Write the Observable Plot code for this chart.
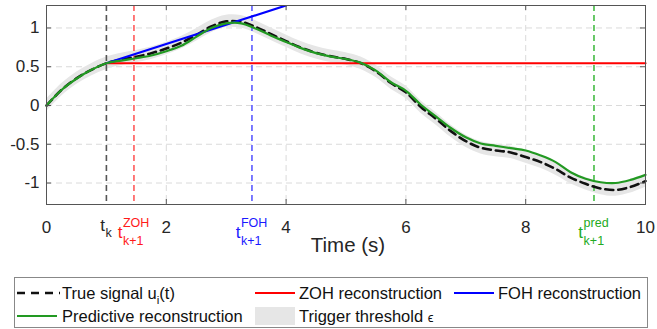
<!DOCTYPE html>
<html><head><meta charset="utf-8">
<script src="https://cdn.jsdelivr.net/npm/d3@7"></script>
<script src="https://cdn.jsdelivr.net/npm/@observablehq/plot@0.6"></script>
<style>
body{margin:0;background:#fff;font-family:"Liberation Sans",Arial,sans-serif;}
#wrap{position:relative;width:657px;height:329px;overflow:hidden;}
#chart{position:absolute;left:0;top:0;}
#legend{position:absolute;left:0;top:270px;}
</style></head><body>
<div id="wrap"><div id="chart"></div><svg id="legend" width="657" height="59"></svg></div>
<script>
// ---- data ----
const time = [0,0.25,0.5,0.75,1,1.25,1.5,1.75,2,2.25,2.5,2.75,3,3.25,3.5,3.75,4,4.25,4.5,4.75,5,5.25,5.5,5.75,6,6.25,6.5,6.75,7,7.25,7.5,7.75,8,8.25,8.5,8.75,9,9.25,9.5,9.75,10];
const trueSignal = [0,0.20,0.35,0.46,0.545,0.595,0.63,0.675,0.735,0.81,0.91,1.02,1.085,1.08,1.01,0.92,0.83,0.745,0.68,0.635,0.60,0.545,0.44,0.29,0.17,-0.02,-0.17,-0.33,-0.46,-0.545,-0.58,-0.605,-0.665,-0.73,-0.82,-0.93,-1.01,-1.07,-1.09,-1.05,-0.975];
const predictive = [0,0.20,0.345,0.46,0.545,0.58,0.61,0.645,0.70,0.77,0.885,1.00,1.06,1.06,0.99,0.90,0.82,0.74,0.675,0.63,0.60,0.55,0.45,0.30,0.19,0.01,-0.14,-0.29,-0.41,-0.49,-0.52,-0.55,-0.58,-0.645,-0.73,-0.86,-0.945,-0.99,-1.0,-0.96,-0.895];
const epsilon = 0.08;
const zohTime = [1, 10];
const zohValue = [0.545, 0.545];
const fohTime = [1, 4];
const fohValue = [0.545, 1.29];
const eventTimes = [1.0, 1.46, 3.43, 9.14];
const eventLineColors = ["#555555", "#ff5a5a", "#5a5aff", "#44bb44"];
const eventLabelColors = ["#262626", "#ff1a1a", "#1a1aff", "#22aa22"];
const eventSup = ["", "ZOH", "FOH", "pred"];
const eventSub = ["k", "k+1", "k+1", "k+1"];
const xTicks = [0, 2, 4, 6, 8, 10];
const yTicks = [-1, -0.5, 0, 0.5, 1];
const xDomain = [0, 10];
const yDomain = [-1.277, 1.29];
const xLabel = "Time (s)";
const legendItems = ["True signal u", "ZOH reconstruction", "FOH reconstruction", "Predictive reconstruction", "Trigger threshold "];

// ---- tables ----
const rows = time.map((t, i) => ({t, u: trueSignal[i], p: predictive[i]}));
const zoh = zohTime.map((t, i) => ({t, v: zohValue[i]}));
const foh = fohTime.map((t, i) => ({t, v: fohValue[i]}));

const H = 270;
const font = '"Liberation Sans", Arial, sans-serif';
const axisColor = "#555";
const tickLenY = (yDomain[1] - yDomain[0]) * 5 / 199;
const tickLenX = (xDomain[1] - xDomain[0]) * 5 / 599;

const plot = Plot.plot({
  width: 657, height: H,
  marginLeft: 46, marginRight: 12, marginTop: 5, marginBottom: H - 204,
  x: {domain: xDomain},
  y: {domain: yDomain},
  style: {fontFamily: font, background: "white", color: "#262626"},
  marks: [
    Plot.gridX(xTicks, {stroke: "#dadada", strokeOpacity: 1, strokeDasharray: "6,4"}),
    Plot.gridY(yTicks, {stroke: "#dadada", strokeOpacity: 1, strokeDasharray: "6,4"}),
    Plot.areaY(rows, {x: "t", y1: d => d.u - epsilon, y2: d => d.u + epsilon, fill: "#e6e6e6", curve: "catmull-rom"}),
    ...eventTimes.map((t, i) => Plot.ruleX([t], {stroke: eventLineColors[i], strokeWidth: 1.6, strokeDasharray: "6,4"})),
    Plot.line(rows, {x: "t", y: "u", stroke: "#111", strokeWidth: 2.6, strokeDasharray: "8,5", curve: "catmull-rom"}),
    Plot.line(zoh, {x: "t", y: "v", stroke: "#ff0000", strokeWidth: 2.2}),
    Plot.line(foh, {x: "t", y: "v", stroke: "#0000ff", strokeWidth: 2.2, clip: true}),
    Plot.line(rows, {x: "t", y: "p", stroke: "#229922", strokeWidth: 2.2, curve: "catmull-rom"}),
    // inward ticks on all four sides
    Plot.ruleX(xTicks.slice(1, -1), {x: d => d, y1: yDomain[0], y2: yDomain[0] + tickLenY, stroke: axisColor}),
    Plot.ruleX(xTicks.slice(1, -1), {x: d => d, y1: yDomain[1], y2: yDomain[1] - tickLenY, stroke: axisColor}),
    Plot.ruleY(yTicks, {y: d => d, x1: xDomain[0], x2: xDomain[0] + tickLenX, stroke: axisColor}),
    Plot.ruleY(yTicks, {y: d => d, x1: xDomain[1], x2: xDomain[1] - tickLenX, stroke: axisColor}),
    Plot.frame({stroke: axisColor}),
    Plot.axisX(xTicks, {tickSize: 0, tickPadding: 16, fontSize: 17, label: null, tickFormat: d => String(d)}),
    Plot.axisY(yTicks, {tickSize: 0, tickPadding: 7, fontSize: 17, label: null, tickFormat: d => String(d)}),
    Plot.text([xLabel], {text: d => d, frameAnchor: "bottom", dy: 41, dx: 2, fontSize: 20.5, lineAnchor: "middle", fill: "#262626"})
  ]
});
document.getElementById("chart").appendChild(plot);

// ---- event tick labels t_k, t^{ZOH}_{k+1}, ... placed with the x scale ----
const xs = plot.scale("x");
const svg = d3.select(plot);
const g = svg.append("g").attr("font-family", font).attr("text-anchor", "start");
eventTimes.forEach((t, i) => {
  const X = xs.apply(t);
  const c = eventLabelColors[i];
  const hasSup = eventSup[i] !== "";
  const tBase = hasSup ? 238 : 231;
  const tt = g.append("text").attr("font-size", 17).attr("fill", c).attr("y", tBase).attr("text-anchor", "start").text("t");
  const sub = g.append("text").attr("font-size", 12.5).attr("fill", c).attr("y", hasSup ? 245 : 237).attr("text-anchor", "start").text(eventSub[i]);
  let sup = null;
  if (hasSup) sup = g.append("text").attr("font-size", 12.5).attr("fill", c).attr("y", 227).attr("text-anchor", "start").text(eventSup[i]);
  const wT = tt.node().getComputedTextLength();
  const wS = Math.max(sub.node().getComputedTextLength(), sup ? sup.node().getComputedTextLength() : 0);
  const x0 = X - (wT + wS + 0.5) / 2;
  tt.attr("x", x0);
  sub.attr("x", x0 + wT + 0.5);
  if (sup) sup.attr("x", x0 + wT + 0.5);
});

// ---- legend ----
const lg = d3.select("#legend").attr("font-family", font);
lg.append("rect").attr("x", 14.5).attr("y", 7.5).attr("width", 633).attr("height", 50)
  .attr("fill", "white").attr("stroke", "#888").attr("stroke-width", 1);
const r1 = 23, r2 = 46;
const fs = 16.5;
function txt(x, y, s) {
  return lg.append("text").attr("x", x).attr("y", y + 6).attr("font-size", fs).attr("fill", "#111").text(s);
}
// row 1
lg.append("line").attr("x1", 17).attr("x2", 60).attr("y1", r1).attr("y2", r1)
  .attr("stroke", "#111").attr("stroke-width", 2.6).attr("stroke-dasharray", "8,6");
const t1 = txt(62, r1, legendItems[0]);
t1.append("tspan").attr("font-size", 11.5).attr("dy", 5).text("i");
t1.append("tspan").attr("dy", -5).text("(t)");
lg.append("line").attr("x1", 255).attr("x2", 295).attr("y1", r1).attr("y2", r1).attr("stroke", "#ff0000").attr("stroke-width", 2);
txt(299, r1, legendItems[1]);
lg.append("line").attr("x1", 454).attr("x2", 494).attr("y1", r1).attr("y2", r1).attr("stroke", "#0000ff").attr("stroke-width", 2);
txt(498, r1, legendItems[2]);
// row 2
lg.append("line").attr("x1", 17).attr("x2", 57).attr("y1", r2).attr("y2", r2).attr("stroke", "#229922").attr("stroke-width", 2);
txt(62, r2, legendItems[3]);
lg.append("rect").attr("x", 255).attr("y", r2 - 9).attr("width", 40).attr("height", 18).attr("fill", "#e6e6e6");
const t5 = txt(299, r2, legendItems[4]);
t5.append("tspan").attr("font-size", 13).text("ϵ");
</script>
</body></html>
